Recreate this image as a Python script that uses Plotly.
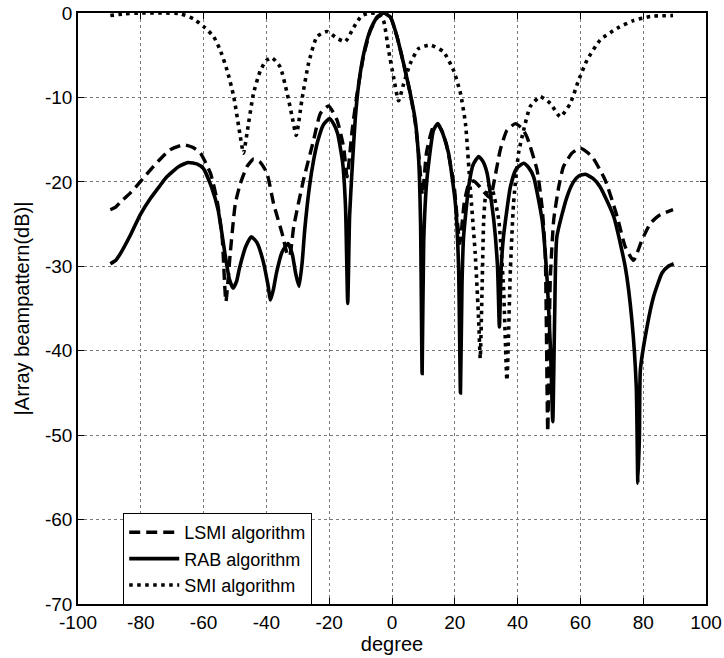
import plotly.graph_objects as go

# ---- data ----
rab_deg = [-89.7, -88, -86.5, -83.3, -80.2, -77, -74, -71.7, -68, -64.9, -62, -60.1, -57.5, -55.4, -53.2, -51.8,
           -50.6, -49.5, -48.5, -46.5, -44.8, -43, -41.1, -39.5, -38.7, -37.8, -36.8, -35, -33.1, -31.8,
           -30.6, -29.6, -28.6, -27.8, -26.3, -25, -23.6, -21.8, -19.9, -18.5, -17.3, -15.7, -14.8, -14.1,
           -13.5, -12.7, -11.7, -10.6, -9, -6.9, -4.8, -2.7, -0.5, 1.6, 3.7, 5.8, 7.4, 8.5, 9.1, 9.6, 10.1,
           11.1, 13.2, 14.6, 16.3, 18, 20.2, 21.2, 21.8, 22.3, 22.8, 24.4, 25.8, 27.6, 29, 30.3, 32.4, 33.6,
           34.2, 34.8, 35.5, 37.7, 39.5, 41.9, 43.5, 45.1, 47.8, 49.4, 50.5, 51.2, 51.8, 52.5, 55.7, 57.8,
           59.5, 61.6, 64, 66.3, 70.6, 74.3, 76.4, 77.8, 78.3, 78.8, 79.1, 81.2, 83.3, 86, 88, 89.7]
rab_db = [-29.7, -29.3, -28.5, -26.3, -23.9, -22.0, -20.5, -19.4, -18.2, -17.7, -17.9, -18.4, -20.6, -23.3, -28.5, -31.5,
          -32.6, -31.8, -30.1, -27.6, -26.5, -27.2, -29.3, -32.2, -34.0, -32.8, -30.8, -28.3, -27.3, -28.5,
          -31.0, -32.4, -29.5, -25.7, -20.6, -17.5, -15.1, -13.2, -12.5, -13.2, -14.3, -17.8, -23.0, -34.4,
          -24.0, -18.5, -12.5, -8.4, -4.8, -2.0, -0.5, 0.0, -0.5, -2.8, -6.0, -9.5, -12.7, -17.4, -25.0, -42.7, -27.0,
          -19.8, -13.9, -13.1, -14.4, -16.6, -22.6, -30.0, -45.0, -32.0, -26.5, -20.6, -18.0, -17.0, -17.6, -19.0, -24.5, -30.0,
          -37.2, -30.0, -26.5, -20.6, -18.5, -17.8, -18.3, -19.4, -24.5, -31.6, -40.0, -48.4, -36.0, -26.5, -21.8, -20.0,
          -19.3, -19.1, -19.6, -20.6, -24.1, -30.1, -36.4, -44.3, -55.7, -50.0, -42.3, -37.2, -33.6, -30.8, -30.0, -29.7]

lsmi_deg = [-89.7, -88, -86.5, -83.3, -80.2, -77, -73.8, -70.7, -66.4, -63.5, -61, -57.8, -55.7, -54.1, -52.9, -51.5,
            -49.9, -48.3, -46.2, -44.1, -41.9, -39.8, -37.7, -35, -33.4, -32.6, -31.3, -28.2, -25, -22.8, -20.2,
            -17.5, -15.4, -14.3, -12.7, -11.1, -9, -6.9, -4.8, -2.7, -0.5, 1.6, 3.7, 5.8, 7.4, 8.6, 9.7, 11, 13,
            14.5, 16.2, 17.7, 19.8, 21.6, 23, 24.5, 26, 28, 30, 31.3, 32.5, 34.5, 36.6, 39.3, 41.5, 43, 46.2,
            47.8, 48.8, 49.6, 50.4, 51.5, 53.1, 54.6, 57.3, 60, 63.7, 67.9, 71.7, 74.3, 76.9, 79.6, 82.3, 85.4, 89.5]
lsmi_db = [-23.3, -23.0, -22.4, -21.3, -20.0, -18.6, -17.3, -16.2, -15.6, -15.9, -16.6, -19.0, -22.2, -26.5, -34.2, -28.4,
           -22.6, -20.2, -18.2, -17.3, -17.7, -19.0, -22.6, -26.1, -28.5, -28.8, -25.3, -19.8, -15.1, -11.9, -11.0,
           -12.7, -15.9, -19.4, -13.9, -9.5, -5.0, -2.1, -0.6, 0.0, -0.5, -2.8, -6.0, -9.5, -13.0, -17.0, -21.5, -16.5, -13.6,
           -13.2, -14.2, -16.2, -20.5, -27.3, -22.5, -20.2, -19.9, -20.6, -21.5, -21.9, -20.0, -16.2, -13.9, -13.1, -13.7, -14.7, -18.6,
           -23.0, -28.5, -49.6, -31.6, -24.5, -20.6, -18.2, -16.6, -16.0, -17.0, -19.8, -24.1, -27.7, -29.3, -26.9, -24.9, -23.9, -23.3]

smi_deg = [-89.7, -85, -80.1, -73, -67.3, -63.2, -60, -56.8, -54.7, -52.5, -50.4, -48.8, -47.3, -46.2, -44.1,
           -41.9, -40, -38.2, -35.6, -33.4, -31.8, -30.5, -28.7, -26.6, -23.9, -20.7, -17.5, -14.9, -12.2, -9.6,
           -6.9, -4.3, -2.7, -1.1, 0.5, 2.1, 3.7, 5.8, 8.5, 12.2, 16.4, 19.6, 21.8, 23.4, 24.9, 26.5, 27.6, 28.1,
           28.7, 29.2, 29.7, 30.8, 32, 34, 35.5, 36.6, 37.7, 38.7, 40.3, 41.9, 44, 47.2, 50.4, 53.6, 56.8, 59.4,
           62.1, 66.3, 71.7, 76.9, 82.3, 89.5]
smi_db = [-0.3, -0.1, 0.0, 0.0, -0.1, -0.7, -1.6, -2.8, -4.4, -6.8, -9.9, -13.5, -16.6, -14.3, -9.5,
          -6.8, -5.6, -5.3, -6.4, -9.5, -12.3, -14.5, -10.3, -6.0, -2.8, -2.2, -3.0, -3.4, -1.7, -0.3,
          0.0, -0.1, -0.9, -4.4, -7.6, -10.4, -8.4, -6.0, -4.2, -3.8, -4.6, -6.8, -9.5, -13.1, -20.6, -28.5, -36.4, -40.9,
          -32.4, -24.5, -22.0, -20.5, -21.0, -24.5, -32.4, -43.5, -30.4, -22.6, -16.6, -13.9, -11.1, -9.9, -10.7, -12.3, -10.7, -8.0,
          -5.6, -3.2, -1.8, -0.9, -0.4, -0.3]

x_ticks = [-100, -80, -60, -40, -20, 0, 20, 40, 60, 80, 100]
y_ticks = [-70, -60, -50, -40, -30, -20, -10, 0]

FONT = "Liberation Sans, Arial, sans-serif"

fig = go.Figure()
fig.add_trace(go.Scatter(x=lsmi_deg, y=lsmi_db, mode="lines", name="LSMI algorithm",
                         line=dict(color="black", width=3.4, dash="11px,6px", shape="spline", smoothing=0.5)))
fig.add_trace(go.Scatter(x=rab_deg, y=rab_db, mode="lines", name="RAB algorithm",
                         line=dict(color="black", width=3.6, shape="spline", smoothing=0.5)))
fig.add_trace(go.Scatter(x=smi_deg, y=smi_db, mode="lines", name="SMI algorithm",
                         line=dict(color="black", width=3.6, dash="3.5px,4.5px", shape="spline", smoothing=0.5)))

axis_common = dict(showline=True, linecolor="black", linewidth=1.5, mirror="allticks",
                   ticks="inside", ticklen=6, tickcolor="black", tickwidth=1,
                   showgrid=True, gridcolor="#7a7a7a", gridwidth=1, griddash="dot",
                   zeroline=False, automargin=False,
                   tickfont=dict(family=FONT, size=19, color="black"))

fig.update_xaxes(range=[-100, 100], tickvals=x_ticks, ticktext=[str(v) for v in x_ticks],
                 title=dict(text="degree", font=dict(family=FONT, size=20, color="black"), standoff=2),
                 **axis_common)
fig.update_yaxes(range=[-70, 0], tickvals=y_ticks, ticktext=[str(v) for v in y_ticks],
                 title=dict(text="|Array beampattern(dB)|", font=dict(family=FONT, size=20, color="black"), standoff=10),
                 **axis_common)

fig.update_layout(
    width=724, height=658,
    margin=dict(l=78, r=18, t=13, b=54),
    plot_bgcolor="white", paper_bgcolor="white",
    showlegend=True,
    legend=dict(x=0.072, y=0.154, xanchor="left", yanchor="top",
                bgcolor="white", bordercolor="black", borderwidth=1,
                font=dict(family=FONT, size=18, color="black"),
                itemwidth=50, tracegroupgap=0),
)

fig.write_html("out.html")
